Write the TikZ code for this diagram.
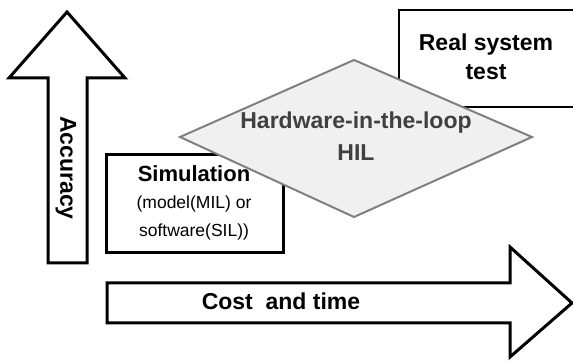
\documentclass[tikz,border=0pt]{standalone}
\usepackage{fontspec}
\setmainfont{Liberation Sans}
\begin{document}
\begin{tikzpicture}[x=1pt,y=-1pt,
  arrowshape/.style={draw=black,line width=3pt,fill=white,line join=miter},
  boxshape/.style={draw=black,line width=3pt,fill=white},
  bigtext/.style={font=\fontsize{23}{26}\selectfont\bfseries,align=center,inner sep=0pt},
  smalltext/.style={font=\fontsize{17.5}{28}\selectfont,align=center,inner sep=0pt},
  hiltext/.style={font=\fontsize{23}{32}\selectfont\bfseries,align=center,inner sep=0pt,text=black!75}]
\useasboundingbox (0,0) rectangle (573,363);
% Accuracy arrow
\draw[arrowshape] (67,12) -- (125,78) -- (87,78) -- (87,263) -- (48,263) -- (48,78) -- (9,78) -- cycle;
\node[bigtext,rotate=-90] (acc) at (66,168) {Accuracy};
% Cost and time arrow
\draw[arrowshape] (107,283) -- (510,283) -- (510,247) -- (572,303) -- (510,357) -- (510,323) -- (107,323) -- cycle;
\node[bigtext] (cost) at (281,301) {Cost\ \ and time};
% Real system test box
\draw[boxshape,line width=2.5pt] (399,10) rectangle (575,107);
\node[bigtext,font=\fontsize{23}{29}\selectfont\bfseries] (real) at (486,57) {Real system\\test};
% Simulation box
\draw[boxshape] (106,155) rectangle (283,253);
\node[bigtext,font=\fontsize{22}{26}\selectfont\bfseries] (sim) at (194,174) {Simulation};
\node[smalltext] (simsub) at (194,218) {(model(MIL) or\\software(SIL))};
% HIL diamond
\draw[draw=black!50,line width=2pt,fill=black!6,line join=miter] (180,137) -- (354,60) -- (532,137) -- (354,217) -- cycle;
\node[hiltext] (hil) at (356,136) {Hardware-in-the-loop\\HIL};
\end{tikzpicture}
\end{document}
